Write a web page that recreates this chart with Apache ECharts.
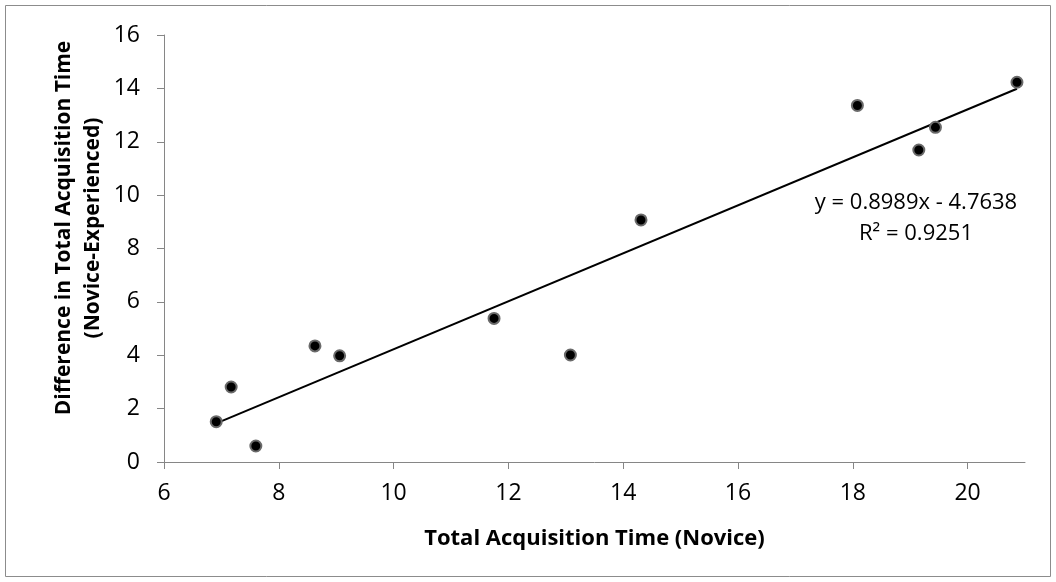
<!DOCTYPE html>
<html>
<head>
<meta charset="utf-8">
<script src="https://cdn.jsdelivr.net/npm/echarts@6/dist/echarts.min.js"></script>
<style>
  html, body { margin: 0; padding: 0; background: #ffffff; }
  #chart { width: 1056px; height: 582px; }
</style>
</head>
<body>
<div id="chart"></div>
<script>
// Total acquisition time for novices and the novice-minus-experienced difference
const noviceTime = [6.91, 7.17, 7.60, 8.63, 9.06, 11.75, 13.08, 14.31, 18.08, 19.15, 19.44, 20.86];
const timeDifference = [1.51, 2.81, 0.60, 4.35, 3.98, 5.38, 4.01, 9.07, 13.36, 11.69, 12.54, 14.23];

// Linear trendline reported on the chart
const trendSlope = 0.8989;
const trendIntercept = -4.7638;
const trendR2 = 0.9251;

// Axis tick labels
const xTicks = [6, 8, 10, 12, 14, 16, 18, 20];
const yTicks = [0, 2, 4, 6, 8, 10, 12, 14, 16];

const FONT = '"Open Sans", "DejaVu Sans", sans-serif';
const AXIS_GRAY = '#868686';

const points = noviceTime.map((x, i) => [x, timeDifference[i]]);
const xLo = Math.min(...noviceTime);
const xHi = Math.max(...noviceTime);
const trendLine = [xLo, xHi].map(x => [x, trendSlope * x + trendIntercept]);

const chart = echarts.init(document.getElementById('chart'), null, { renderer: 'canvas' });

chart.setOption({
  backgroundColor: '#ffffff',
  animation: false,
  grid: { left: 164, top: 35, width: 861, height: 427, containLabel: false },
  xAxis: {
    type: 'value',
    min: 6,
    max: 21,
    interval: 2,
    name: 'Total Acquisition Time (Novice)',
    nameLocation: 'middle',
    nameGap: 66,
    nameTextStyle: { fontFamily: FONT, fontSize: 22, fontWeight: 'bold', color: '#000' },
    axisLine: { lineStyle: { color: AXIS_GRAY, width: 1 } },
    axisTick: { show: true, length: 7, inside: false, customValues: xTicks, lineStyle: { color: AXIS_GRAY } },
    axisLabel: { customValues: xTicks, margin: 20, fontFamily: FONT, fontSize: 23, color: '#000' },
    splitLine: { show: false }
  },
  yAxis: {
    type: 'value',
    min: 0,
    max: 16,
    interval: 2,
    axisLine: { show: true, lineStyle: { color: AXIS_GRAY, width: 1 } },
    axisTick: { show: true, length: 7, inside: false, customValues: yTicks, lineStyle: { color: AXIS_GRAY } },
    axisLabel: { customValues: yTicks, margin: 24, fontFamily: FONT, fontSize: 23, color: '#000' },
    splitLine: { show: false }
  },
  series: [
    {
      name: 'Linear trend',
      type: 'line',
      data: trendLine,
      symbol: 'none',
      lineStyle: { color: '#000', width: 2 },
      z: 2
    },
    {
      name: 'Participants',
      type: 'scatter',
      data: points,
      symbol: 'circle',
      symbolSize: 11,
      itemStyle: { color: '#000', borderColor: '#6a6a6a', borderWidth: 2, opacity: 1 },
      z: 3
    }
  ],
  graphic: [
    {
      type: 'rect',
      silent: true,
      shape: { x: 5.5, y: 5.5, width: 1045, height: 571 },
      style: { fill: 'none', stroke: '#8c8c8c', lineWidth: 1 }
    },
    {
      type: 'text',
      silent: true,
      x: 64, y: 228,
      rotation: Math.PI / 2,
      style: {
        text: 'Difference in Total Acquisition Time',
        font: 'bold 21px ' + FONT,
        fill: '#000',
        align: 'center',
        verticalAlign: 'middle'
      }
    },
    {
      type: 'text',
      silent: true,
      x: 93, y: 228,
      rotation: Math.PI / 2,
      style: {
        text: '(Novice-Experienced)',
        font: 'bold 21px ' + FONT,
        fill: '#000',
        align: 'center',
        verticalAlign: 'middle'
      }
    },
    {
      type: 'text',
      silent: true,
      x: 916, y: 203,
      style: {
        text: 'y = ' + trendSlope.toFixed(4) + 'x - ' + Math.abs(trendIntercept).toFixed(4),
        font: '22px ' + FONT,
        fill: '#000',
        align: 'center',
        verticalAlign: 'middle'
      }
    },
    {
      type: 'text',
      silent: true,
      x: 916, y: 234,
      style: {
        text: 'R\u00B2 = ' + trendR2.toFixed(4),
        font: '22px ' + FONT,
        fill: '#000',
        align: 'center',
        verticalAlign: 'middle'
      }
    }
  ]
});
</script>
</body>
</html>
